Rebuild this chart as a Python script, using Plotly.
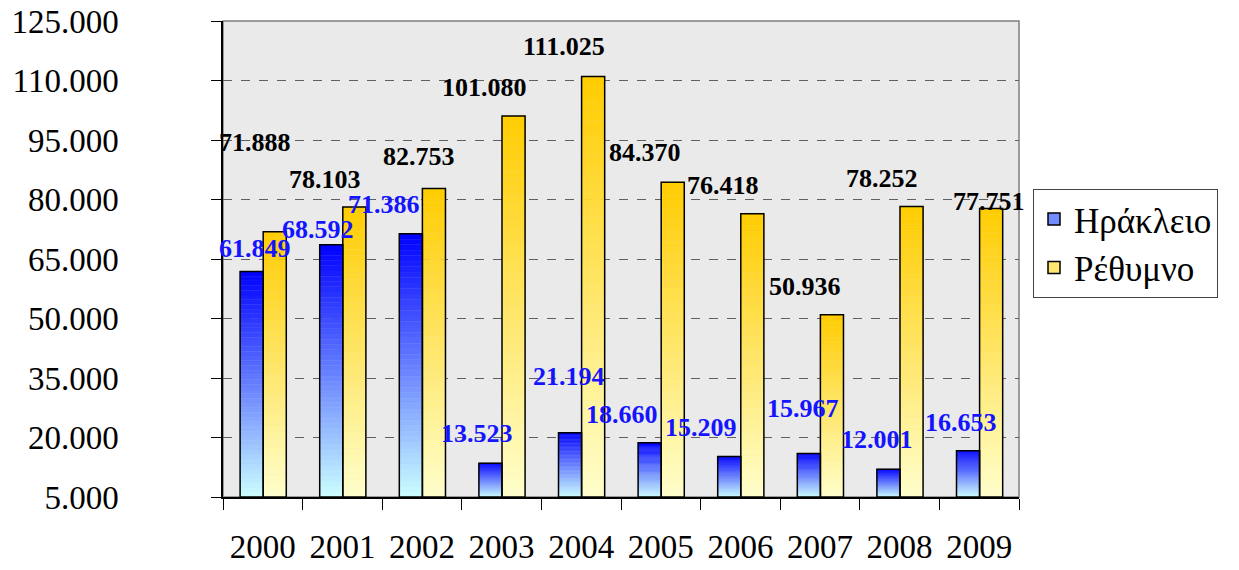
import plotly.graph_objects as go

# ---------------- data ----------------
years = ["2000", "2001", "2002", "2003", "2004", "2005", "2006", "2007", "2008", "2009"]
heraklion = [61849, 68592, 71386, 13523, 21194, 18660, 15209, 15967, 12001, 16653]
rethymno = [71888, 78103, 82753, 101080, 111025, 84370, 76418, 50936, 78252, 77751]
series_names = ["Ηράκλειο", "Ρέθυμνο"]
y_tick_values = [5000, 20000, 35000, 50000, 65000, 80000, 95000, 110000, 125000]

# ---------------- style ----------------
FONT = "Liberation Serif"
AXIS_BASE = 5000
N_SEG = 48
BAR_W = 0.29
OFFSETS = [-0.285, 0.005]
# (top colour, bottom colour)
GRADIENTS = [((0, 0, 255), (204, 255, 255)), ((255, 204, 0), (255, 255, 204))]
LABEL_COLORS = ["#1414ff", "#000000"]
# label offsets (pixels) relative to category centre / bar top
H_XSHIFT = [-7.8, -24.1, -38.5, -24.4, -11.9, -38.6, -39.2, -17.5, -22.9, -18.5]
H_YSHIFT = [22.8, 15, 29, 29.2, 56, 28.3, 29.5, 45, 30, 28.7]
R_XSHIFT = [-7.8, -17.4, -3, -17.6, -17.5, -16.1, -17.4, -15, -17.6, 10.1]
R_YSHIFT = [89, 28, 32, 28.5, 30, 30, 28, 28, 28.3, 7]


def mix(c_top, c_bot, t):
    # t = 0 bottom, t = 1 top
    return "rgb(%d,%d,%d)" % tuple(round(b + (a - b) * t) for a, b in zip(c_top, c_bot))


fig = go.Figure()

all_series = [heraklion, rethymno]

# legend-only entries
for s, name in enumerate(series_names):
    top, bot = GRADIENTS[s]
    fig.add_trace(go.Bar(
        x=[years[0]], y=[None], name=name, width=BAR_W, offset=OFFSETS[s],
        marker=dict(color=mix(top, bot, 0.45), line=dict(color="black", width=1.5)),
        legendgroup=name, showlegend=True, hoverinfo="skip"))

# gradient segments
for s, vals in enumerate(all_series):
    top, bot = GRADIENTS[s]
    for k in range(N_SEG):
        col = mix(top, bot, (k + 0.5) / N_SEG)
        fig.add_trace(go.Bar(
            x=years,
            y=[(v - AXIS_BASE) / N_SEG for v in vals],
            base=[AXIS_BASE + (v - AXIS_BASE) * k / N_SEG for v in vals],
            width=BAR_W, offset=OFFSETS[s],
            marker=dict(color=col, line=dict(color=col, width=0.4)),
            showlegend=False, hoverinfo="skip"))

# outlines
for s, vals in enumerate(all_series):
    fig.add_trace(go.Bar(
        x=years, y=[v - AXIS_BASE for v in vals], base=[AXIS_BASE] * len(vals),
        width=BAR_W, offset=OFFSETS[s], name=series_names[s],
        marker=dict(color="rgba(0,0,0,0)", line=dict(color="black", width=1.5)),
        showlegend=False, hovertemplate="%{x}: %{customdata}<extra></extra>",
        customdata=vals))

# data labels (x given as category index)
annotations = []
for s, (vals, xs, ys) in enumerate([(heraklion, H_XSHIFT, H_YSHIFT), (rethymno, R_XSHIFT, R_YSHIFT)]):
    for i, v in enumerate(vals):
        annotations.append(dict(
            x=i, y=v, xref="x", yref="y",
            text=f"{v:,}".replace(",", "."), showarrow=False,
            xanchor="center", yanchor="middle", xshift=xs[i], yshift=ys[i],
            font=dict(family=FONT, size=26, color=LABEL_COLORS[s], weight="bold")))

fig.update_layout(
    width=1231, height=562,
    margin=dict(l=215, r=220, t=13, b=73),
    paper_bgcolor="white", plot_bgcolor="#eaeaea",
    barmode="overlay",
    separators=",.",
    font=dict(family=FONT, size=33, color="black"),
    annotations=annotations,
    legend=dict(x=1.0176, y=0.6474, xanchor="left", yanchor="top",
                bgcolor="white", bordercolor="#444", borderwidth=1,
                font=dict(family=FONT, size=35, color="black"),
                tracegroupgap=0, traceorder="grouped"),
    shapes=[
        dict(type="rect", xref="paper", yref="paper", x0=0, x1=1, y0=0, y1=1,
             line=dict(color="#808080", width=1.5), layer="below"),
        dict(type="line", xref="paper", yref="paper", x0=1.2714, x1=1.2714, y0=-0.16, y1=1.05,
             line=dict(color="#404040", width=2.5)),
    ],
)

fig.update_xaxes(
    type="category", categoryorder="array", categoryarray=years,
    range=[-0.5, len(years) - 0.5], autorange=False, automargin=False,
    showline=True, linecolor="black", linewidth=1.5, tickangle=0,
    ticks="outside", ticklen=11, tickcolor="black", tickwidth=1.2, tickson="boundaries",
    showgrid=False, ticklabelstandoff=20,
    tickfont=dict(family=FONT, size=33))
fig.update_yaxes(
    range=[5000, 125000], autorange=False, automargin=False,
    tickvals=y_tick_values, tickformat=",d", ticklabeloverflow="allow",
    showline=True, linecolor="black", linewidth=1.5,
    ticks="outside", ticklen=10, tickcolor="black", tickwidth=1.2,
    showgrid=True, gridcolor="#606060", griddash="dash", gridwidth=1,
    zeroline=False, ticklabelstandoff=86,
    tickfont=dict(family=FONT, size=33))

fig.write_html("out.html")
